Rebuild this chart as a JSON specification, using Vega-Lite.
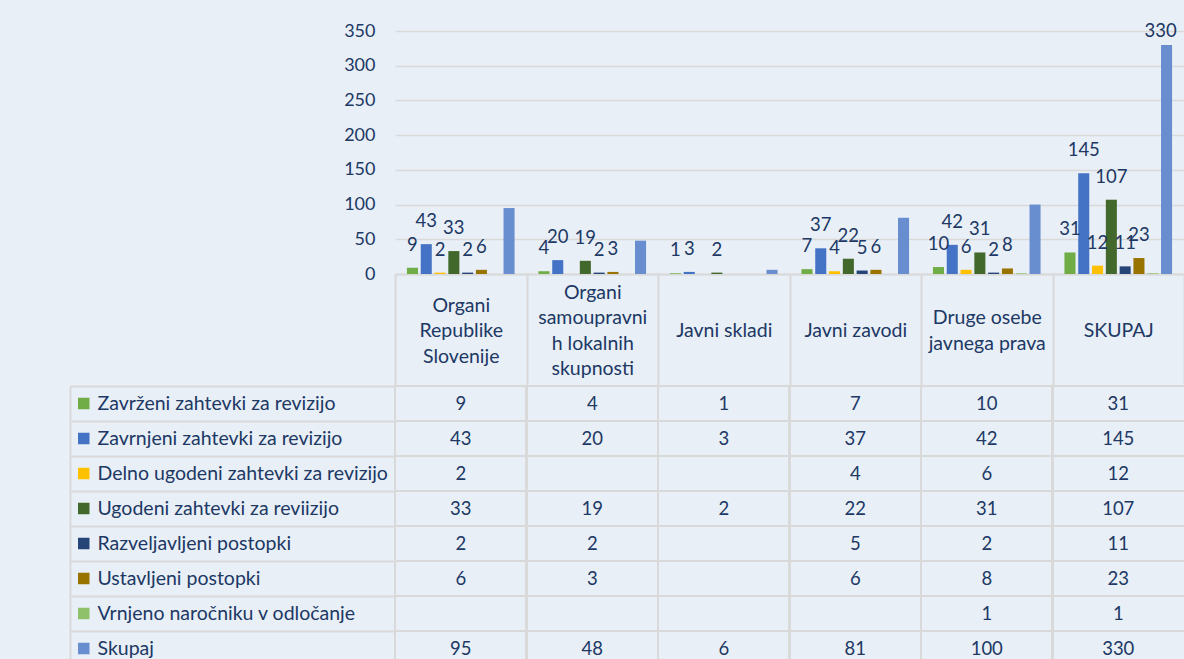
{
  "$schema": "https://vega.github.io/schema/vega-lite/v6.json",
  "background": "#e8eff7",
  "padding": {"left": 69, "top": 21, "right": 0, "bottom": 0},
  "bounds": "flush",
  "spacing": 112,
  "config": {
    "font": "Lato",
    "view": {"stroke": null},
    "axis": {"labelColor": "#203864", "labelFontSize": 18, "labelFont": "Lato"}
  },
  "datasets": {
    "main": [
      {"category": "Organi Republike Slovenije", "series": "Zavrženi zahtevki za revizijo", "value": 9},
      {"category": "Organi Republike Slovenije", "series": "Zavrnjeni zahtevki za revizijo", "value": 43},
      {"category": "Organi Republike Slovenije", "series": "Delno ugodeni zahtevki za revizijo", "value": 2},
      {"category": "Organi Republike Slovenije", "series": "Ugodeni zahtevki za reviizijo", "value": 33},
      {"category": "Organi Republike Slovenije", "series": "Razveljavljeni postopki", "value": 2},
      {"category": "Organi Republike Slovenije", "series": "Ustavljeni postopki", "value": 6},
      {"category": "Organi Republike Slovenije", "series": "Skupaj", "value": 95},
      {"category": "Organi samoupravnih lokalnih skupnosti", "series": "Zavrženi zahtevki za revizijo", "value": 4},
      {"category": "Organi samoupravnih lokalnih skupnosti", "series": "Zavrnjeni zahtevki za revizijo", "value": 20},
      {"category": "Organi samoupravnih lokalnih skupnosti", "series": "Ugodeni zahtevki za reviizijo", "value": 19},
      {"category": "Organi samoupravnih lokalnih skupnosti", "series": "Razveljavljeni postopki", "value": 2},
      {"category": "Organi samoupravnih lokalnih skupnosti", "series": "Ustavljeni postopki", "value": 3},
      {"category": "Organi samoupravnih lokalnih skupnosti", "series": "Skupaj", "value": 48},
      {"category": "Javni skladi", "series": "Zavrženi zahtevki za revizijo", "value": 1},
      {"category": "Javni skladi", "series": "Zavrnjeni zahtevki za revizijo", "value": 3},
      {"category": "Javni skladi", "series": "Ugodeni zahtevki za reviizijo", "value": 2},
      {"category": "Javni skladi", "series": "Skupaj", "value": 6},
      {"category": "Javni zavodi", "series": "Zavrženi zahtevki za revizijo", "value": 7},
      {"category": "Javni zavodi", "series": "Zavrnjeni zahtevki za revizijo", "value": 37},
      {"category": "Javni zavodi", "series": "Delno ugodeni zahtevki za revizijo", "value": 4},
      {"category": "Javni zavodi", "series": "Ugodeni zahtevki za reviizijo", "value": 22},
      {"category": "Javni zavodi", "series": "Razveljavljeni postopki", "value": 5},
      {"category": "Javni zavodi", "series": "Ustavljeni postopki", "value": 6},
      {"category": "Javni zavodi", "series": "Skupaj", "value": 81},
      {"category": "Druge osebe javnega prava", "series": "Zavrženi zahtevki za revizijo", "value": 10},
      {"category": "Druge osebe javnega prava", "series": "Zavrnjeni zahtevki za revizijo", "value": 42},
      {"category": "Druge osebe javnega prava", "series": "Delno ugodeni zahtevki za revizijo", "value": 6},
      {"category": "Druge osebe javnega prava", "series": "Ugodeni zahtevki za reviizijo", "value": 31},
      {"category": "Druge osebe javnega prava", "series": "Razveljavljeni postopki", "value": 2},
      {"category": "Druge osebe javnega prava", "series": "Ustavljeni postopki", "value": 8},
      {"category": "Druge osebe javnega prava", "series": "Vrnjeno naročniku v odločanje", "value": 1},
      {"category": "Druge osebe javnega prava", "series": "Skupaj", "value": 100},
      {"category": "SKUPAJ", "series": "Zavrženi zahtevki za revizijo", "value": 31},
      {"category": "SKUPAJ", "series": "Zavrnjeni zahtevki za revizijo", "value": 145},
      {"category": "SKUPAJ", "series": "Delno ugodeni zahtevki za revizijo", "value": 12},
      {"category": "SKUPAJ", "series": "Ugodeni zahtevki za reviizijo", "value": 107},
      {"category": "SKUPAJ", "series": "Razveljavljeni postopki", "value": 11},
      {"category": "SKUPAJ", "series": "Ustavljeni postopki", "value": 23},
      {"category": "SKUPAJ", "series": "Vrnjeno naročniku v odločanje", "value": 1},
      {"category": "SKUPAJ", "series": "Skupaj", "value": 330}
    ]
  },
  "vconcat": [
    {
      "width": 789,
      "height": 243,
      "data": {"name": "main"},
      "encoding": {
        "x": {
          "field": "category", "type": "nominal",
          "sort": ["Organi Republike Slovenije", "Organi samoupravnih lokalnih skupnosti", "Javni skladi", "Javni zavodi", "Druge osebe javnega prava", "SKUPAJ"],
          "scale": {"paddingInner": 0, "paddingOuter": 0},
          "axis": {
            "title": null, "orient": "bottom",
            "domainColor": "#d9d9d9", "domainWidth": 2,
            "tickBand": "extent", "tickSize": 112, "tickColor": "#d9d9d9", "tickWidth": 2,
            "labelPadding": {
              "condition": [
                {"test": "datum.value == 'Organi samoupravnih lokalnih skupnosti'", "value": -93.75},
                {"test": "datum.value == 'Organi Republike Slovenije'", "value": -81},
                {"test": "datum.value == 'Druge osebe javnega prava'", "value": -68.25}
              ],
              "value": -55.5
            },
            "labelBaseline": "middle", "labelLineHeight": 25.5, "labelFontSize": 19.5,
            "labelAngle": 0, "labelOverlap": false, "labelBound": false, "labelLimit": 300,
            "labelExpr": "datum.value == 'Organi Republike Slovenije' ? ['Organi', 'Republike', 'Slovenije'] : datum.value == 'Organi samoupravnih lokalnih skupnosti' ? ['Organi', 'samoupravni', 'h lokalnih', 'skupnosti'] : datum.value == 'Druge osebe javnega prava' ? ['Druge osebe', 'javnega prava'] : datum.label"
          }
        },
        "xOffset": {
          "field": "series", "type": "nominal",
          "sort": ["Zavrženi zahtevki za revizijo", "Zavrnjeni zahtevki za revizijo", "Delno ugodeni zahtevki za revizijo", "Ugodeni zahtevki za reviizijo", "Razveljavljeni postopki", "Ustavljeni postopki", "Vrnjeno naročniku v odločanje", "Skupaj"],
          "scale": {"paddingInner": 0.2, "paddingOuter": 0.865}
        },
        "y": {
          "field": "value", "type": "quantitative",
          "scale": {"domain": [0, 350]},
          "axis": {
            "title": null, "values": [0, 50, 100, 150, 200, 250, 300, 350],
            "grid": true, "gridColor": "#d9d9d9", "gridWidth": 1.5,
            "domain": false, "ticks": false, "labelPadding": 20
          }
        }
      },
      "layer": [
        {
          "mark": {"type": "bar"},
          "encoding": {
            "color": {
              "field": "series", "type": "nominal",
              "scale": {
                "domain": ["Zavrženi zahtevki za revizijo", "Zavrnjeni zahtevki za revizijo", "Delno ugodeni zahtevki za revizijo", "Ugodeni zahtevki za reviizijo", "Razveljavljeni postopki", "Ustavljeni postopki", "Vrnjeno naročniku v odločanje", "Skupaj"],
                "range": ["#70ad47", "#4472c4", "#ffc000", "#43682b", "#264478", "#997300", "#8fc16a", "#698ed0"]
              },
              "legend": {
                "orient": "none", "legendX": -321, "legendY": 355, "title": null,
                "symbolType": "square", "symbolSize": 132, "symbolStrokeWidth": 0,
                "labelFontSize": 19.5, "labelColor": "#203864", "labelFont": "Lato",
                "clipHeight": 35, "rowPadding": 0, "labelOffset": 4, "labelLimit": 400,
                "direction": "vertical", "padding": 0
              }
            }
          }
        },
        {
          "transform": [{"filter": "datum.series != 'Vrnjeno naročniku v odločanje' && datum.series != 'Skupaj'"}],
          "mark": {"type": "text", "dy": -23, "fontSize": 18.5, "color": "#203864", "baseline": "middle"},
          "encoding": {"text": {"field": "value", "type": "quantitative"}}
        },
        {
          "transform": [{"filter": "datum.series == 'Skupaj' && datum.category == 'SKUPAJ'"}],
          "mark": {"type": "text", "dy": -14, "dx": -6, "fontSize": 18.5, "color": "#203864", "baseline": "middle"},
          "encoding": {"text": {"field": "value", "type": "quantitative"}}
        }
      ]
    },
    {
      "width": 789,
      "height": 280,
      "data": {"name": "main"},
      "layer": [
        {
          "mark": {"type": "rule", "color": "#d9d9d9", "strokeWidth": 2},
          "encoding": {
            "x": {
              "field": "category", "type": "nominal", "bandPosition": 0,
              "sort": ["Organi Republike Slovenije", "Organi samoupravnih lokalnih skupnosti", "Javni skladi", "Javni zavodi", "Druge osebe javnega prava", "SKUPAJ"],
              "scale": {"paddingInner": 0, "paddingOuter": 0},
              "axis": null
            }
          }
        },
        {
          "mark": {"type": "rule", "color": "#d9d9d9", "strokeWidth": 2},
          "encoding": {
            "y": {
              "field": "series", "type": "nominal", "bandPosition": 0,
              "sort": ["Zavrženi zahtevki za revizijo", "Zavrnjeni zahtevki za revizijo", "Delno ugodeni zahtevki za revizijo", "Ugodeni zahtevki za reviizijo", "Razveljavljeni postopki", "Ustavljeni postopki", "Vrnjeno naročniku v odločanje", "Skupaj"],
              "scale": {"paddingInner": 0, "paddingOuter": 0},
              "axis": {
                "title": null, "labels": false, "offset": 325,
                "tickSize": -325, "tickBand": "extent", "tickColor": "#d9d9d9", "tickWidth": 2,
                "domainColor": "#d9d9d9", "domainWidth": 2, "grid": false
              }
            }
          }
        },
        {
          "mark": {"type": "text", "fontSize": 18.5, "color": "#203864", "baseline": "middle", "align": "center"},
          "encoding": {
            "x": {"field": "category", "type": "nominal", "sort": ["Organi Republike Slovenije", "Organi samoupravnih lokalnih skupnosti", "Javni skladi", "Javni zavodi", "Druge osebe javnega prava", "SKUPAJ"]},
            "y": {"field": "series", "type": "nominal", "sort": ["Zavrženi zahtevki za revizijo", "Zavrnjeni zahtevki za revizijo", "Delno ugodeni zahtevki za revizijo", "Ugodeni zahtevki za reviizijo", "Razveljavljeni postopki", "Ustavljeni postopki", "Vrnjeno naročniku v odločanje", "Skupaj"]},
            "text": {"field": "value", "type": "quantitative"}
          }
        }
      ]
    }
  ]
}
